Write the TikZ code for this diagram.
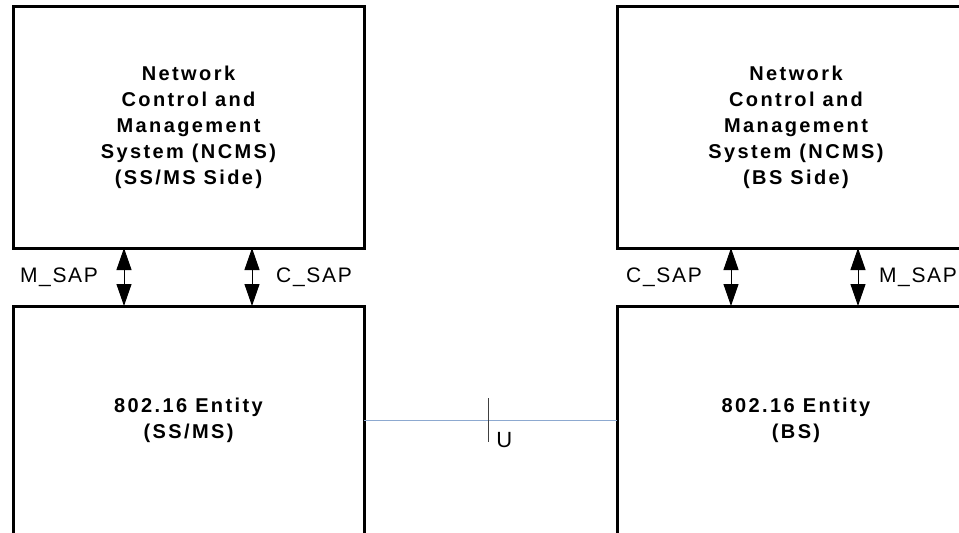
\documentclass[tikz,border=0pt]{standalone}
\usepackage{fontspec}
\setmainfont{Liberation Sans}
\newfontfamily\boxfont[LetterSpace=12]{Liberation Sans}
\newfontfamily\sapfont[LetterSpace=8]{Liberation Sans}
\usepackage{tikz}
\usetikzlibrary{arrows.meta}
\usetikzlibrary{positioning}
\definecolor{linkblue}{RGB}{141,169,208}
\definecolor{tickgray}{RGB}{64,64,64}
\tikzset{sysbox/.style = {draw, line width=3pt, outer sep=0pt, inner sep=0pt,
                          align=center, font=\boxfont\bfseries\fontsize{20}{26}\selectfont},
         sap/.style = {line width=1pt, {Triangle[width=15pt,length=22pt]}-{Triangle[width=15pt,length=22pt]}},
         sapLabel/.style = {inner sep=0pt, font=\sapfont\fontsize{21}{24}\selectfont},
         uLink/.style = {line width=1pt, linkblue},
         uTick/.style = {line width=1pt, tickgray}}

\begin{document}
\begin{tikzpicture}[x=1pt, y=-1pt]
    \path [use as bounding box] (0, 0) rectangle (959, 533);
    \clip (0, 0) rectangle (959, 533);
    \node [sysbox, minimum width=351pt, minimum height=242pt] (ssNcms) at (188.5, 127)
          {Network\\Control and\\Management\\System (NCMS)\\(SS/MS Side)};
    \node [sysbox, minimum width=351pt, minimum height=228pt, below=58pt of ssNcms] (ssEntity)
          {802.16 Entity\\(SS/MS)};
    \node [sysbox, minimum width=358pt, minimum height=242pt, right=253pt of ssNcms.north east, anchor=north west] (bsNcms)
          {Network\\Control and\\Management\\System (NCMS)\\(BS Side)};
    \node [sysbox, minimum width=358pt, minimum height=228pt, below=58pt of bsNcms] (bsEntity)
          {802.16 Entity\\(BS)};
    \coordinate (mL) at (124, 0);
    \coordinate (cL) at (252, 0);
    \coordinate (cR) at (731, 0);
    \coordinate (mR) at (858, 0);
    \draw [sap] (ssNcms.south -| mL) -- (ssEntity.north -| mL);
    \draw [sap] (ssNcms.south -| cL) -- (ssEntity.north -| cL);
    \draw [sap] (bsNcms.south -| cR) -- (bsEntity.north -| cR);
    \draw [sap] (bsNcms.south -| mR) -- (bsEntity.north -| mR);
    \node [sapLabel] (mSapL) at (59, 277) {M\textunderscore SAP};
    \node [sapLabel] (cSapL) at (314, 277) {C\textunderscore SAP};
    \node [sapLabel] (cSapR) at (664, 277) {C\textunderscore SAP};
    \node [sapLabel] (mSapR) at (918, 277) {M\textunderscore SAP};
    \draw [uLink] (ssEntity) -- (bsEntity) coordinate [pos=0.491] (uMark);
    \draw [uTick] ([yshift=22pt]uMark) -- ([yshift=-22pt]uMark);
    \node [sapLabel, anchor=west, font=\fontsize{22}{24}\selectfont] (uLabel) at ([xshift=8pt, yshift=-20pt]uMark) {U};
  \end{tikzpicture}
\end{document}
